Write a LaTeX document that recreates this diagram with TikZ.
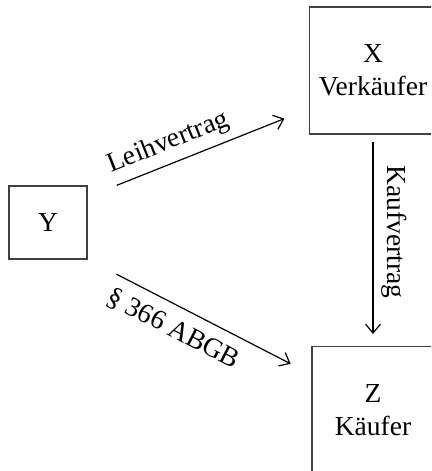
\documentclass[tikz,border=0pt]{standalone}
\usepackage{fontspec}
\setmainfont{Liberation Serif}
\usepackage{tikz}
\usetikzlibrary{arrows.meta}
\tikzstyle{party}=[rectangle,draw=black!75,line width=1.3pt,
                   inner sep=0pt,outer sep=0pt,align=center]
\tikzstyle{deal}=[-{Straight Barb[length=9pt,width=15pt]},
                  line width=1.2pt]

\begin{document}
\begin{tikzpicture}[x=1pt,y=-1pt,font=\fontsize{27.5}{33}\selectfont]
    \useasboundingbox (0,0) rectangle (431,471);
    \clip (0,0) rectangle (431,471);
    \node (py) at (48,222.5) [party,minimum width=78pt,minimum height=73pt]{Y};
    \node (px) at (373,70.5) [party,minimum width=127pt,minimum height=127pt]{X\\Verkäufer};
    \node (pz) at (373,410) [party,minimum width=122pt,minimum height=127pt]{Z\\Käufer};
    \draw[deal,shorten <=32pt,shorten >=27pt] (py.33.5) -- (px.211.5)
        node[sloped,above=4pt,pos=.40]{Leihvertrag};
    \draw[deal,shorten <=33pt,shorten >=24pt] (py.south east) -- (pz.150)
        node[sloped,below=8pt,pos=.43]{\S\ 366 ABGB};
    \draw[deal,shorten <=8pt,shorten >=12.5pt] (px.south) -- (pz.north)
        node[sloped,above=5pt,pos=.46]{Kaufvertrag};
  \end{tikzpicture}
\end{document}
